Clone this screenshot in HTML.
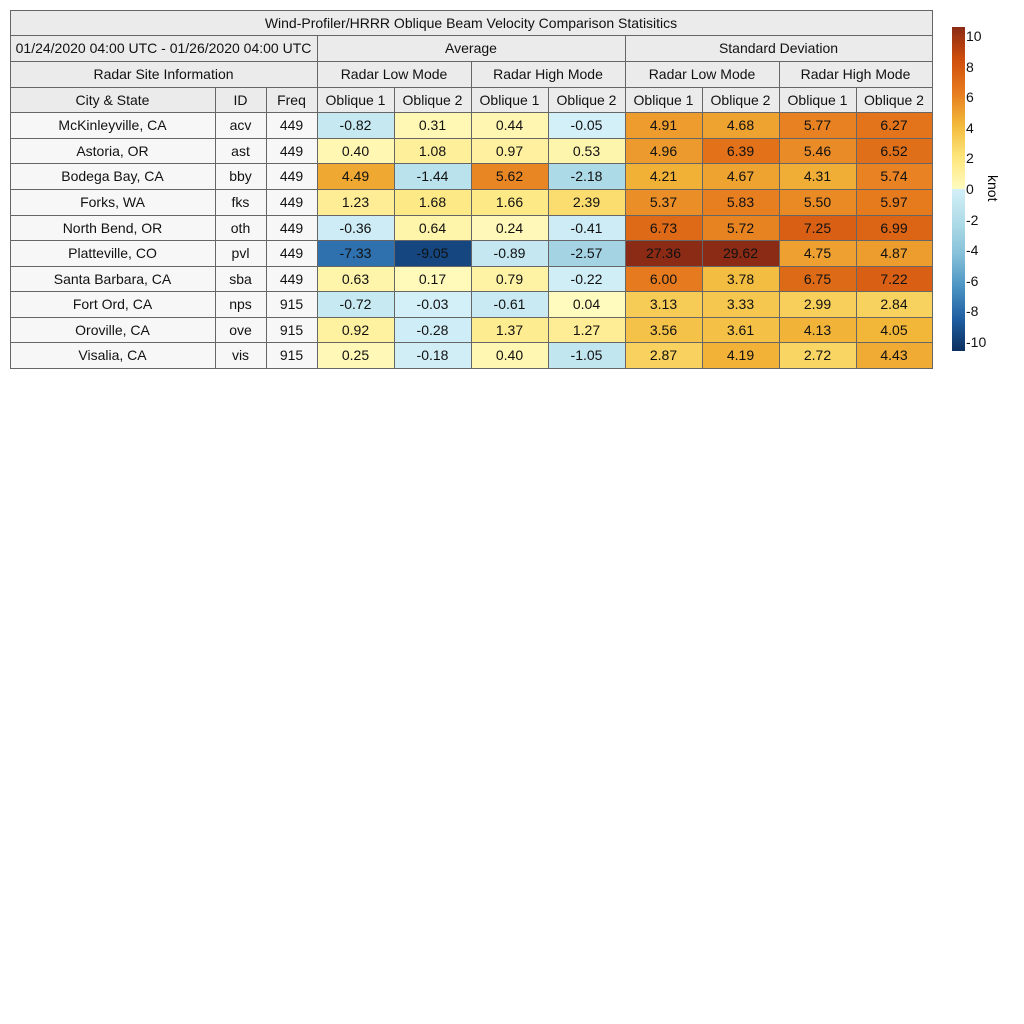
<!DOCTYPE html>
<html><head><meta charset="utf-8"><style>
body{margin:0;width:1024px;height:1024px;background:#fff;font-family:"Liberation Sans",sans-serif;position:relative;overflow:hidden}
.c{position:absolute;box-sizing:border-box;border:1px solid #666;display:flex;align-items:center;justify-content:center;font-size:14px;color:#111;margin:-0.5px 0 0 -0.5px}
.h{background:#ebebeb}.l{background:#f7f7f7}
.t{position:absolute;font-size:14px;color:#111;left:966px}
</style></head><body>
<div id="root"></div>
<div style="position:absolute;left:952px;top:27px;width:13px;height:324px;background:linear-gradient(to bottom,#8b2a15 0%,#cf4e0c 10%,#e67a1e 20%,#f2b83a 30%,#fde57a 40%,#fffbc0 50%,#d4f0f8 50%,#b0dce8 60%,#86c1d9 70%,#4d95c4 80%,#1f5fa3 90%,#0c2f5e 100%)"></div>
<div id="ticks"></div>
<div style="position:absolute;left:1001px;top:175px;font-size:14px;transform:rotate(90deg);transform-origin:left top;">knot</div>
<script>
const R=document.getElementById('root');
function cell(x1,y1,x2,y2,t,cls,bg){const d=document.createElement('div');d.className='c '+(cls||'');d.style.left=x1+'px';d.style.top=y1+'px';d.style.width=(x2-x1+1)+'px';d.style.height=(y2-y1+1)+'px';if(bg)d.style.background=bg;d.textContent=t;R.appendChild(d);}
const X=[10,215,266,317,394,471,548,625,702,779,856,932];
cell(10,10,932,35,'Wind-Profiler/HRRR Oblique Beam Velocity Comparison Statisitics','h');
cell(10,35,317,61,'01/24/2020 04:00 UTC - 01/26/2020 04:00 UTC','h');
cell(317,35,625,61,'Average','h');cell(625,35,932,61,'Standard Deviation','h');
cell(10,61,317,87,'Radar Site Information','h');
['Radar Low Mode','Radar High Mode','Radar Low Mode','Radar High Mode'].forEach((t,i)=>cell(X[3+2*i],61,X[5+2*i],87,t,'h'));
['City & State','ID','Freq','Oblique 1','Oblique 2','Oblique 1','Oblique 2','Oblique 1','Oblique 2','Oblique 1','Oblique 2'].forEach((t,i)=>cell(X[i],87,X[i+1],112,t,'h'));
const D=[
['McKinleyville, CA','acv','449',-0.82,0.31,0.44,-0.05,4.91,4.68,5.77,6.27],
['Astoria, OR','ast','449',0.40,1.08,0.97,0.53,4.96,6.39,5.46,6.52],
['Bodega Bay, CA','bby','449',4.49,-1.44,5.62,-2.18,4.21,4.67,4.31,5.74],
['Forks, WA','fks','449',1.23,1.68,1.66,2.39,5.37,5.83,5.50,5.97],
['North Bend, OR','oth','449',-0.36,0.64,0.24,-0.41,6.73,5.72,7.25,6.99],
['Platteville, CO','pvl','449',-7.33,-9.05,-0.89,-2.57,27.36,29.62,4.75,4.87],
['Santa Barbara, CA','sba','449',0.63,0.17,0.79,-0.22,6.00,3.78,6.75,7.22],
['Fort Ord, CA','nps','915',-0.72,-0.03,-0.61,0.04,3.13,3.33,2.99,2.84],
['Oroville, CA','ove','915',0.92,-0.28,1.37,1.27,3.56,3.61,4.13,4.05],
['Visalia, CA','vis','915',0.25,-0.18,0.40,-1.05,2.87,4.19,2.72,4.43]];
const P=[[0,[255,251,192]],[2,[253,229,122]],[4,[242,184,58]],[6,[230,122,30]],[8,[207,78,12]],[10,[139,42,21]]];
const N=[[0,[212,240,248]],[2,[176,220,232]],[4,[134,193,217]],[6,[77,149,196]],[8,[31,95,163]],[10,[12,47,94]]];
function col(v){const s=v<0?N:P;let a=Math.min(Math.abs(v),10);for(let i=0;i<5;i++){if(a<=s[i+1][0]){const f=(a-s[i][0])/2;const c=s[i][1].map((q,k)=>Math.round(q+(s[i+1][1][k]-q)*f));return 'rgb('+c+')';}}}
const Y=[112,138,163,189,215,240,266,291,317,342,368];
D.forEach((r,j)=>{r.forEach((v,i)=>{if(i<3)cell(X[i],Y[j],X[i+1],Y[j+1],v,'l');else cell(X[i],Y[j],X[i+1],Y[j+1],v.toFixed(2),'',col(v));});});
const T=document.getElementById('ticks');
for(let v=10;v>=-10;v-=2){const d=document.createElement('div');d.className='t';d.textContent=v;d.style.top=(36+(10-v)/20*306-8)+'px';T.appendChild(d);}
</script>
</body></html>
